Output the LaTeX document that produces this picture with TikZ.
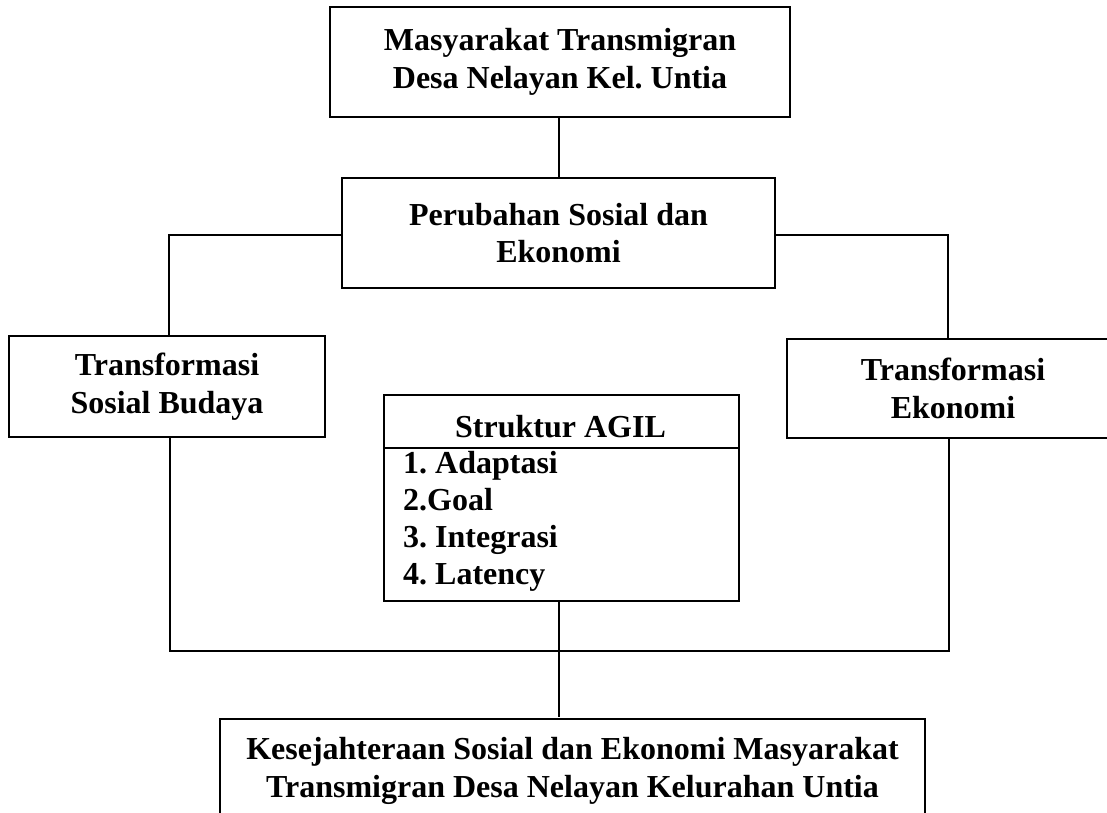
\documentclass[tikz,border=0pt]{standalone}
\usepackage{fontspec}
\setmainfont{Liberation Serif}
\frenchspacing
\begin{document}
\begin{tikzpicture}[x=1pt,y=-1pt,
  box/.style={draw, line width=1.8pt, rectangle, inner sep=0pt, align=center,
    font=\bfseries\fontsize{32}{37.5}\selectfont},
  conn/.style={line width=1.3pt},
  txt/.style={inner sep=0pt, align=center, font=\bfseries\fontsize{32}{37.5}\selectfont}]
\useasboundingbox[fill=white] (0,0) rectangle (1107,812);
\node[box, minimum width=460, minimum height=110] (top) at (560,62) {Masyarakat Transmigran\\Desa Nelayan Kel. Untia};
\node[box, minimum width=433, minimum height=110] (mid) at (558.5,233) {Perubahan Sosial dan\\Ekonomi};
\node[box, minimum width=316, minimum height=101] (left) at (167,386.5) {Transformasi\\Sosial Budaya};
\node[box, minimum width=332, minimum height=99] (right) at (953,388.5) {Transformasi\\Ekonomi};
\node[draw, line width=1.8pt, inner sep=0pt, minimum width=355, minimum height=206, anchor=north west] (agil) at (383,394) {};
\coordinate (divl) at (383,448);
\coordinate (divr) at (738,448);
\draw[line width=1.8pt] (divl) -- (divr);
\node[txt] (agiltitle) at (560.5,427) {Struktur AGIL};
\node[txt, align=left, anchor=west, font=\bfseries\fontsize{32}{37}\selectfont] (items) at (403,521) {1. Adaptasi\\2.Goal\\3. Integrasi\\4. Latency};
\node[box, minimum width=705, minimum height=104] (bottom) at (572.5,771) {Kesejahteraan Sosial dan Ekonomi Masyarakat\\Transmigran Desa Nelayan Kelurahan Untia};
% connectors
\coordinate (lk) at (169,235);
\coordinate (rk) at (948,235);
\coordinate (jl) at (170,651);
\coordinate (jr) at (949,651);
\coordinate (jm) at (559,651);
\coordinate (bn) at (559,717);
\draw[conn] (top.south -| 559,0) -- (mid.north -| 559,0);
\draw[conn] (mid.west |- lk) -- (lk) -- (lk |- left.north);
\draw[conn] (mid.east |- rk) -- (rk) -- (rk |- right.north);
\draw[conn] (jl |- left.south) -- (jl) -- (jr) -- (jr |- right.south);
\draw[conn] (agil.south -| jm) -- (jm) -- (bn);
\end{tikzpicture}
\end{document}
